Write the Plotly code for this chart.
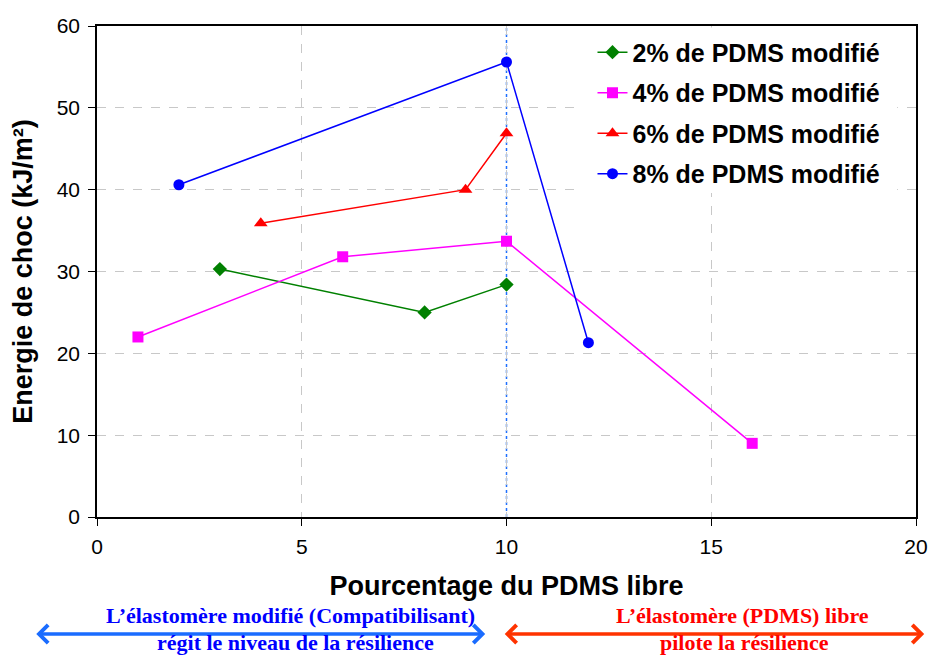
import plotly.graph_objects as go

# Impact energy vs. free PDMS content, for four levels of modified PDMS
x_2 = [3, 8, 10]
y_2 = [30.3, 25.0, 28.4]
x_4 = [1, 6, 10, 16]
y_4 = [22.0, 31.8, 33.7, 9.0]
x_6 = [4, 9, 10]
y_6 = [35.9, 40.0, 46.9]
x_8 = [2, 10, 12]
y_8 = [40.6, 55.6, 21.3]

names = ["2% de PDMS modifié", "4% de PDMS modifié",
         "6% de PDMS modifié", "8% de PDMS modifié"]
x_ticks = [0, 5, 10, 15, 20]
y_ticks = [0, 10, 20, 30, 40, 50, 60]
threshold = 10

series = [
    (x_2, y_2, names[0], "#008000", "diamond", 11),
    (x_4, y_4, names[1], "#ff00ff", "square", 11),
    (x_6, y_6, names[2], "#ff0000", "triangle-up", 12),
    (x_8, y_8, names[3], "#0000ff", "circle", 11),
]

fig = go.Figure()
for xs, ys, name, color, symbol, size in series:
    fig.add_trace(go.Scatter(
        x=xs, y=ys, name=name, mode="lines+markers",
        line=dict(color=color, width=1.5),
        marker=dict(color=color, symbol=symbol, size=size),
        legendgroup=name,
    ))

# white panel behind the legend, masking the grid (no data falls in it)
fig.add_shape(type="rect", xref="paper", yref="paper",
              x0=0.584, x1=0.977, y0=0.66, y1=0.997,
              fillcolor="white", line=dict(width=0), layer="above")

# vertical dotted marker at the transition
fig.add_shape(type="line", x0=threshold, x1=threshold, y0=0, y1=60,
              xref="x", yref="y", line=dict(color="#1e6fff", width=1.5, dash="dot"),
              layer="below")

font_family = "Liberation Sans, Arial, sans-serif"
serif = "Liberation Serif, Times New Roman, serif"

# double-headed arrows and captions below the axis
plot_w = 819
arrow_y = -0.2383
blue = "#1a6cff"
red = "#ff3300"
for x0, x1, color in [(-0.076, 0.474, blue), (0.496, 1.01, red)]:
    fig.add_annotation(
        x=x1, y=arrow_y, xref="paper", yref="paper",
        ax=(x0 - x1) * plot_w, ay=0, axref="pixel", ayref="pixel",
        showarrow=True, arrowhead=4, arrowside="end+start",
        arrowsize=1.0, arrowwidth=3.5, arrowcolor=color, text="",
    )

cap = dict(family=serif, size=22, weight="bold")
captions = [
    (0.236, -0.2, "L’élastomère modifié (Compatibilisant)", "#0000ff"),
    (0.242, -0.255, "régit le niveau de la résilience", "#0000ff"),
    (0.788, -0.2, "L’élastomère (PDMS) libre", "#ff0000"),
    (0.791, -0.255, "pilote la résilience", "#ff0000"),
]
for cx, cy, text, color in captions:
    fig.add_annotation(x=cx, y=cy, xref="paper", yref="paper", text=text,
                       showarrow=False, xanchor="center", yanchor="middle",
                       font=dict(cap, color=color))

axis_common = dict(showline=True, mirror=True, linecolor="black", linewidth=1.5,
                   ticks="outside", ticklen=7, tickcolor="black",
                   showgrid=True, gridcolor="#c8c8c8", griddash="dash",
                   gridwidth=1, zeroline=False, automargin=False,
                   tickfont=dict(size=21))

fig.update_layout(
    width=930, height=656,
    margin=dict(l=97, r=14, t=26, b=139),
    plot_bgcolor="white", paper_bgcolor="white",
    font=dict(family=font_family, size=21, color="black"),
    legend=dict(x=0.605, y=0.993, xanchor="left", yanchor="top",
                bgcolor="rgba(255,255,255,0)", font=dict(size=25, weight="bold"),
                tracegroupgap=5, itemwidth=30),
    xaxis=dict(axis_common, range=[0, 20], tickvals=x_ticks,
               ticklabelstandoff=3,
               title=dict(text="Pourcentage du PDMS libre", standoff=19,
                          font=dict(size=27, weight="bold"))),
    yaxis=dict(axis_common, range=[0, 60], tickvals=y_ticks,
               ticklabelstandoff=4,
               title=dict(text="Energie de choc (kJ/m²)", standoff=16,
                          font=dict(size=27, weight="bold"))),
)

fig.write_html("out.html")
